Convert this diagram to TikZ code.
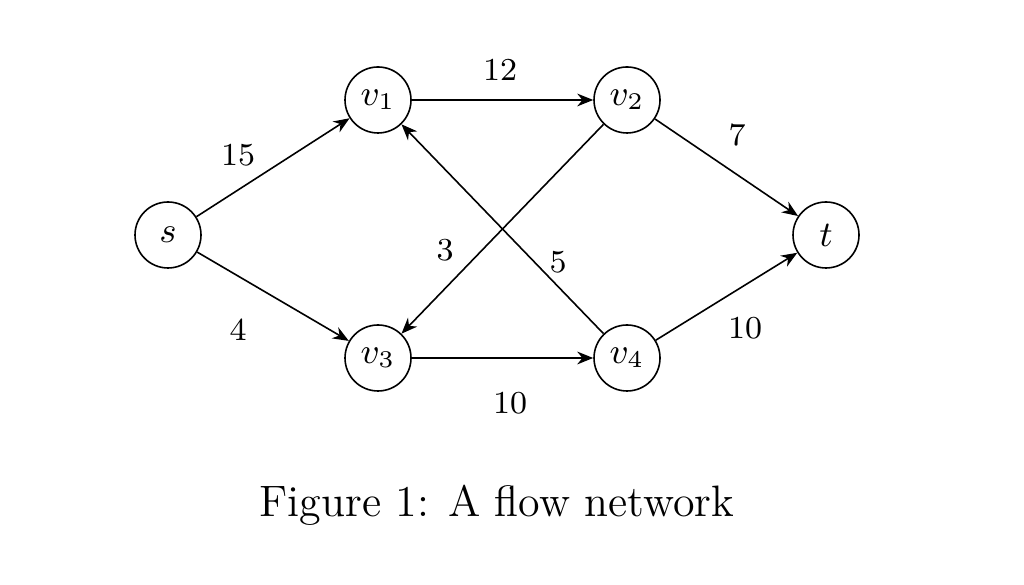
\documentclass[tikz,border=0pt]{standalone}
\usetikzlibrary{arrows.meta,positioning}
\tikzset{
  vertex/.style={circle,draw,minimum size=16.5pt,inner sep=0pt,font=\small},
  flow/.style={-{Stealth[length=4pt,width=3.2pt]},thin},
  capacity/.style={font=\footnotesize}
}
\begin{document}
\begin{tikzpicture}[x=0.25pt,y=-0.25pt]
  \useasboundingbox (0,0) rectangle (1024,585);
  % vertices
  \node[vertex] (s) at (168,235) {$s$};
  \node[vertex] (v1) at (378,100) {$v_1$};
  \node[vertex] (v2) at (627,100) {$v_2$};
  \node[vertex] (v3) at (378,358) {$v_3$};
  \node[vertex] (v4) at (627,358) {$v_4$};
  \node[vertex] (t) at (826,235) {$t$};
  % edges
  \draw[flow] (s) -- (v1);
  \draw[flow] (s) -- (v3);
  \draw[flow] (v1) -- (v2);
  \draw[flow] (v3) -- (v4);
  \draw[flow] (v2) -- (t);
  \draw[flow] (v4) -- (t);
  \draw[flow] (v2) -- (v3);
  \draw[flow] (v4) -- (v1);
  % capacities
  \node[capacity] (c1) at (238,155) {15};
  \node[capacity] (c2) at (238,330) {4};
  \node[capacity] (c3) at (500,70) {12};
  \node[capacity] (c4) at (510,403) {10};
  \node[capacity] (c5) at (737,135) {7};
  \node[capacity] (c6) at (745,328) {10};
  \node[capacity] (c7) at (445,250) {3};
  \node[capacity] (c8) at (558,262) {5};
  \node[font=\fontsize{11}{13}\selectfont] (caption) at (497,505) {Figure 1: A flow network};
\end{tikzpicture}
\end{document}
